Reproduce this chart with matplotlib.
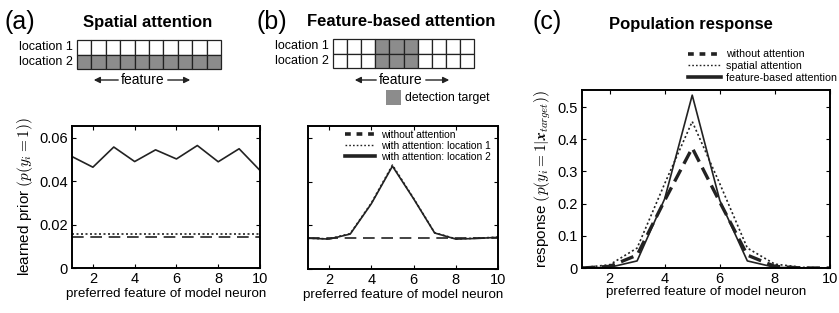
import matplotlib
matplotlib.use('Agg')
import matplotlib.pyplot as plt
from matplotlib.patches import Rectangle

plt.rcParams['font.family'] = ['Liberation Sans', 'DejaVu Sans']
plt.rcParams['mathtext.fontset'] = 'cm'

# data
feature = [1, 2, 3, 4, 5, 6, 7, 8, 9, 10]

# (a) spatial attention, learned prior
a_without = [0.0145, 0.0145, 0.0145, 0.0145, 0.0145, 0.0145, 0.0145, 0.0145, 0.0145, 0.0145]
a_loc1 = [0.0158, 0.0158, 0.0158, 0.0158, 0.0158, 0.0158, 0.0158, 0.0158, 0.0158, 0.0158]
a_loc2 = [0.0514, 0.0465, 0.0558, 0.0491, 0.0545, 0.0503, 0.0565, 0.0490, 0.0550, 0.0450]

# (b) feature-based attention, learned prior
b_without = [0.0140, 0.0140, 0.0140, 0.0140, 0.0140, 0.0140, 0.0140, 0.0140, 0.0140, 0.0140]
b_loc1 = [0.0141, 0.0138, 0.0162, 0.0302, 0.0476, 0.0324, 0.0166, 0.0138, 0.0141, 0.0146]
b_loc2 = [0.0141, 0.0137, 0.0160, 0.0299, 0.0471, 0.0322, 0.0165, 0.0137, 0.0140, 0.0145]

# (c) population response
c_without = [0.000, 0.005, 0.040, 0.210, 0.373, 0.205, 0.040, 0.005, 0.000, 0.000]
c_spatial = [0.001, 0.010, 0.062, 0.262, 0.455, 0.262, 0.062, 0.012, 0.002, 0.000]
c_feature = [0.000, 0.002, 0.022, 0.215, 0.537, 0.210, 0.022, 0.002, 0.000, 0.000]

W, H = 839, 313
fig = plt.figure(figsize=(W / 100, H / 100), dpi=100)
ink = '#222222'


def px_axes(x0, y0, x1, y1):
  return fig.add_axes([x0 / W, 1 - y1 / H, (x1 - x0) / W, (y1 - y0) / H])


def style(ax, pad=1):
  ax.tick_params(direction='in', top=True, right=True, labelsize=10.5, length=3, width=0.8, pad=3)
  for s in ax.spines.values():
    s.set_linewidth(1.4)
  ax.set_xlim(1, 10)
  ax.set_xticks([2, 4, 6, 8, 10])
  ax.set_xlabel('preferred feature of model neuron', fontsize=9.6, labelpad=pad)


def fix_legend(leg, widths):
  for h, w in zip(leg.get_lines(), widths):
    h.set_linewidth(w)


# panel (a)
axa = px_axes(72, 126, 260, 268)
axa.plot(feature, a_without, color=ink, lw=1.2, dashes=(7, 4))
axa.plot(feature, a_loc1, color=ink, lw=1.2, dashes=(1.2, 1.5))
axa.plot(feature, a_loc2, color=ink, lw=1.2)
axa.set_ylim(0, 0.0655)
axa.set_yticks([0, 0.02, 0.04, 0.06])
axa.set_yticklabels(['0', '0.02', '0.04', '0.06'])
axa.set_ylabel(r'learned prior $\left(p(y_i=1)\right)$', fontsize=11, labelpad=3)
style(axa)

# panel (b)
axb = px_axes(308, 126, 498, 269)
axb.plot(feature, b_without, color=ink, lw=1.2, dashes=(7, 4), label='without attention')
axb.plot(feature, b_loc1, color=ink, lw=1.2, dashes=(1.2, 1.5), label='with attention: location 1')
axb.plot(feature, b_loc2, color=ink, lw=1.2, label='with attention: location 2')
axb.set_ylim(0, 0.0655)
axb.set_yticks([0, 0.02, 0.04, 0.06])
axb.set_yticklabels([])
style(axb)
legb = axb.legend(loc='upper left', bbox_to_anchor=(0.155, 1.025), frameon=False, fontsize=7.4,
                  handlelength=3.0, handletextpad=0.5, labelspacing=0.12, borderpad=0.2)
legb.get_lines()[0].set_dashes((1.6, 1.6))
fix_legend(legb, [2.6, 1.0, 2.6])

# panel (c)
axc = px_axes(582, 90, 830, 268)
l1, = axc.plot(feature, c_without, color=ink, lw=2.4, dashes=(4, 2), label='without attention')
l2, = axc.plot(feature, c_spatial, color=ink, lw=1.2, dashes=(1.2, 1.5), label='spatial attention')
l3, = axc.plot(feature, c_feature, color=ink, lw=1.2, label='feature-based attention')
axc.set_ylim(0, 0.553)
axc.set_yticks([0, 0.1, 0.2, 0.3, 0.4, 0.5])
axc.set_yticklabels(['0', '0.1', '0.2', '0.3', '0.4', '0.5'])
axc.set_ylabel(r'response $\left(p(y_i=1|\boldsymbol{x}_{target})\right)$', fontsize=11, labelpad=3)
style(axc, pad=0)
legc = fig.legend(handles=[l1, l2, l3], loc='upper left', bbox_to_anchor=(681 / W, 1 - 42 / H),
                  frameon=False, fontsize=7.7, handlelength=3.0, handletextpad=0.5,
                  labelspacing=0.15, borderpad=0.2)
legc.get_lines()[0].set_dashes((1.6, 1.6))
fix_legend(legc, [2.6, 1.0, 2.6])

# titles and panel letters
fig.text(148 / W, 1 - 22 / H, 'Spatial attention', fontsize=12, fontweight='bold', ha='center', va='center')
fig.text(401 / W, 1 - 22 / H, 'Feature-based attention', fontsize=12, fontweight='bold', ha='center', va='center')
fig.text(691 / W, 1 - 24 / H, 'Population response', fontsize=12, fontweight='bold', ha='center', va='center')
fig.text(4 / W, 1 - 22 / H, '(a)', fontsize=18, ha='left', va='center')
fig.text(257 / W, 1 - 22 / H, '(b)', fontsize=18, ha='left', va='center')
fig.text(533 / W, 1 - 22 / H, '(c)', fontsize=18, ha='left', va='center')

# schematic grids (pixel coordinates overlay)
ov = fig.add_axes([0, 0, 1, 1], zorder=-1)
ov.set_xlim(0, W)
ov.set_ylim(H, 0)
ov.axis('off')

gray = '#8c8c8c'
grid_a = [[0] * 10, [1] * 10]
grid_b = [[0, 0, 0, 1, 1, 1, 0, 0, 0, 0], [0, 0, 0, 1, 1, 1, 0, 0, 0, 0]]


def draw_grid(x0, y0, cw, ch, cells, arrow_x0, arrow_x1, mid_text):
  for r, row in enumerate(cells):
    for c, v in enumerate(row):
      ov.add_patch(Rectangle((x0 + c * cw, y0 + r * ch), cw, ch, facecolor=gray if v else 'white',
                             edgecolor=ink, lw=0.9))
  ov.text(x0 - 4, y0 + ch * 0.5, 'location 1', fontsize=9, ha='right', va='center')
  ov.text(x0 - 4, y0 + ch * 1.5, 'location 2', fontsize=9, ha='right', va='center')
  ov.text(mid_text, 80, 'feature', fontsize=10, ha='center', va='center')
  ov.annotate('', xy=(arrow_x0, 80), xytext=(mid_text - 22, 80),
              arrowprops=dict(arrowstyle='-|>', lw=1.0, color=ink, mutation_scale=9))
  ov.annotate('', xy=(arrow_x1, 80), xytext=(mid_text + 22, 80),
              arrowprops=dict(arrowstyle='-|>', lw=1.0, color=ink, mutation_scale=9))


draw_grid(77, 40, 14.4, 14.5, grid_a, 91, 193, 143)
draw_grid(333, 39, 14.1, 14.5, grid_b, 352, 452, 401)
ov.add_patch(Rectangle((386, 90), 15, 15, facecolor=gray, edgecolor='none'))
ov.text(405, 97.5, 'detection target', fontsize=8.8, ha='left', va='center')

fig.savefig('out.png', dpi=100)
